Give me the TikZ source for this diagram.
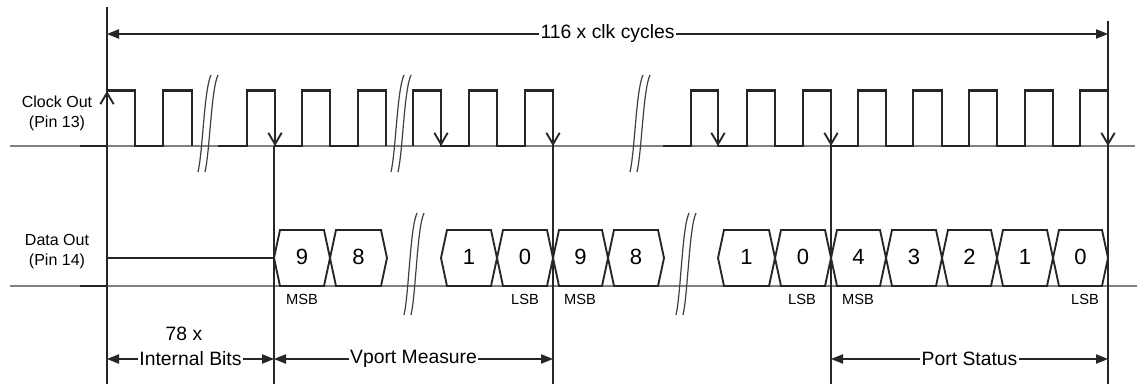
\documentclass[tikz,border=0pt]{standalone}
\usepackage{fontspec}
\setmainfont{Liberation Sans}
\usetikzlibrary{arrows.meta}
\newcommand\hexbit[4]{%
  \draw[hexbox] (#1,258) -- (#1+6,230) -- (#2-6,230) -- (#2,258) -- (#2-6,286) -- (#1+6,286) -- cycle;
  \node[bit] (#4) at ({(#1+#2)/2},257) {#3};}
\newcommand\brkmark[3]{%
  \draw[brk] (#1+13,#2) .. controls (#1+6,#2+15) and (#1+5,#3-22) .. (#1,#3);
  \draw[brk] (#1+20,#2) .. controls (#1+13,#2+15) and (#1+12,#3-22) .. (#1+7,#3);}
\begin{document}
\begin{tikzpicture}[x=0.75pt,y=-0.75pt,
  wave/.style={line width=1.6pt, draw=black!85, line join=miter},
  base/.style={line width=0.9pt, draw=black!50},
  vline/.style={line width=0.8pt, draw=black!85},
  edgearrow/.style={line width=1.6pt, draw=black!85, -{Straight Barb[length=8.5pt,width=10pt,line width=1.4pt]}},
  dim/.style={line width=0.8pt, draw=black!85, {Triangle[length=9pt,width=7pt]}-{Triangle[length=9pt,width=7pt]}},
  hexbox/.style={line width=1.4pt, draw=black!85, line join=miter},
  brk/.style={line width=0.9pt, draw=black!75},
  sig/.style={font=\fontsize{12}{15}\selectfont, align=center, inner sep=0pt},
  bit/.style={font=\fontsize{16.5}{18}\selectfont, inner sep=0pt},
  lsb/.style={font=\fontsize{11}{12}\selectfont, inner sep=0pt},
  lbl/.style={font=\fontsize{14.5}{17}\selectfont, fill=white, inner sep=1pt}
]
\useasboundingbox (0,0) rectangle (1137,384);
\fill[white] (0,0) rectangle (1137,384);

% baselines
\draw[base] (10,146) -- (1135,146);
\draw[base] (10,286) -- (1137,286);

% vertical reference lines
\draw[vline] (107,7) -- (107,384);
\draw[vline] (274,146) -- (274,384);
\draw[vline] (553,146) -- (553,384);
\draw[vline] (831,146) -- (831,384);
\draw[vline] (1108,21) -- (1108,384);

% clock waveform
\draw[wave] (80,146) -- (107,146) -- (107,90.5) -- (135,90.5) -- (135,146) -- (163,146) -- (163,90.5) -- (192,90.5) -- (192,146);
\draw[wave] (218,146) -- (247,146) -- (247,90.5) -- (275,90.5) -- (275,146) -- (302,146) -- (302,90.5) -- (330,90.5) -- (330,146) -- (358,146) -- (358,90.5) -- (386,90.5) -- (386,146);
\draw[wave] (413,146) -- (413,90.5) -- (441,90.5) -- (441,146) -- (469,146) -- (469,90.5) -- (497,90.5) -- (497,146) -- (525,146) -- (525,90.5) -- (553,90.5) -- (553,146);
\draw[wave] (663,146) -- (691,146) -- (691,90.5) -- (718,90.5) -- (718,146) -- (747,146) -- (747,90.5) -- (775,90.5) -- (775,146) -- (803,146) -- (803,90.5) -- (831,90.5) -- (831,146) -- (858,146) -- (858,90.5) -- (886,90.5) -- (886,146) -- (913,146) -- (913,90.5) -- (942,90.5) -- (942,146) -- (969,146) -- (969,90.5) -- (997,90.5) -- (997,146) -- (1025,146) -- (1025,90.5) -- (1053,90.5) -- (1053,146) -- (1080,146) -- (1080,90.5) -- (1108,90.5) -- (1108,146);

% edge arrows
\draw[edgearrow] (107,130) -- (107,91);
\foreach \ex in {275,441,553,718,831,1108} {\draw[edgearrow] (\ex,110) -- (\ex,146);}

% clock breaks
\brkmark{198}{75}{172}
\brkmark{391}{75}{172}
\brkmark{630}{75}{172}

% data line
\draw[wave] (80,286) -- (107,286) -- (107,258) -- (274,258);
\hexbit{274}{330}{9}{d1}
\hexbit{330}{387}{8}{d2}
\hexbit{441}{497}{1}{d3}
\hexbit{497}{553}{0}{d4}
\hexbit{553}{608}{9}{d5}
\hexbit{608}{664}{8}{d6}
\hexbit{718}{775}{1}{d7}
\hexbit{775}{831}{0}{d8}
\hexbit{831}{886}{4}{d9}
\hexbit{886}{942}{3}{d10}
\hexbit{942}{997}{2}{d11}
\hexbit{997}{1053}{1}{d12}
\hexbit{1053}{1108}{0}{d13}

% data breaks
\brkmark{404}{213}{315}
\brkmark{676}{213}{315}

% MSB / LSB
\node[lsb] (m1) at (302,299) {MSB};
\node[lsb] (l1) at (525,299) {LSB};
\node[lsb] (m2) at (580,299) {MSB};
\node[lsb] (l2) at (802,299) {LSB};
\node[lsb] (m3) at (858,299) {MSB};
\node[lsb] (l3) at (1085,299) {LSB};

% signal names
\node[sig] (clk) at (57,113) {Clock Out\\(Pin 13)};
\node[sig] (dat) at (57,252) {Data Out\\(Pin 14)};

% dimension arrows
\coordinate (ta) at (107,34);
\coordinate (tb) at (1108,34);
\coordinate (ba) at (107,359);
\coordinate (bb) at (274,359);
\coordinate (bc) at (553,359);
\coordinate (bd) at (831,359);
\coordinate (be) at (1108,359);
\draw[dim] (ta) -- node[lbl] (ttot) {116 x clk cycles} (tb);
\draw[dim] (ba) -- node[lbl] (tint) {Internal Bits} (bb);
\draw[dim] (bb) -- node[lbl] (tvp) {Vport Measure} (bc);
\draw[dim] (bd) -- node[lbl] (tps) {Port Status} (be);
\node[lbl, fill=none] (t78) at (184,334) {78 x};
\end{tikzpicture}
\end{document}
